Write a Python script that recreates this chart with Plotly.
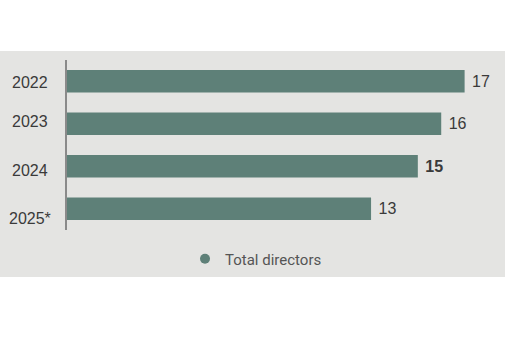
import plotly.graph_objects as go

# ---- data ----
years = ["2022", "2023", "2024", "2025*"]
total_directors = [17, 16, 15, 13]
bold_label = [False, False, True, False]
series_name = "Total directors"

# ---- style ----
BAR = "rgb(94,128,120)"
BG = "#e4e4e2"
TXT = "#3a3a3a"
label_yshift = [-1, 2, -4, -10]   # small vertical nudges of category labels

W, H = 505, 362
L, R, T, B = 67, 17, 60, 132
pw, ph = W - L - R, H - T - B

def px_x(p):
    return (p - L) / pw

def px_y(p):
    return (H - B - p) / ph

texts = [f" <b>{v}</b>" if b else f" {v}" for v, b in zip(total_directors, bold_label)]
order = years[::-1]

fig = go.Figure()
fig.add_trace(go.Bar(
    x=total_directors, y=years, orientation="h",
    marker=dict(color=BAR, line=dict(width=0)),
    width=0.53,
    text=texts, textposition="outside", cliponaxis=False,
    textfont=dict(family="Liberation Sans, Arial", size=16, color=TXT),
    constraintext="none",
    showlegend=False, hoverinfo="skip",
))
fig.add_trace(go.Scatter(
    x=[None], y=[None], mode="markers", name=series_name,
    marker=dict(symbol="circle", size=10, color=BAR),
    showlegend=True,
))

annos = []
for yr, dy in zip(years, label_yshift):
    annos.append(dict(
        x=px_x(30), xref="paper", y=order.index(yr), yref="y", text=yr,
        showarrow=False, xanchor="center", yanchor="middle", yshift=dy,
        font=dict(family="Liberation Sans, Arial", size=16, color=TXT),
    ))

fig.update_layout(
    width=W, height=H,
    margin=dict(l=L, r=R, t=T, b=B),
    paper_bgcolor="white", plot_bgcolor="rgba(0,0,0,0)",
    shapes=[dict(type="rect", xref="paper", yref="paper", layer="below",
                 x0=px_x(0), x1=px_x(505), y0=px_y(277), y1=px_y(51),
                 fillcolor=BG, line=dict(width=0))],
    annotations=annos,
    xaxis=dict(range=[0, 18], visible=False, fixedrange=True),
    yaxis=dict(type="category", categoryorder="array", categoryarray=order,
               range=[-0.5, 3.5], showticklabels=False, ticks="",
               showline=True, linecolor="#8a8a8a", linewidth=2,
               showgrid=False, zeroline=False, fixedrange=True),
    legend=dict(orientation="h", x=px_x(185), xanchor="left",
                y=px_y(259), yanchor="middle",
                bgcolor="rgba(0,0,0,0)",
                font=dict(family="Roboto", size=15, color="#555555")),
    showlegend=True,
)

fig.write_html("out.html", config={"displayModeBar": False},
               post_script="document.body.style.margin='0';document.body.style.overflow='hidden';")
